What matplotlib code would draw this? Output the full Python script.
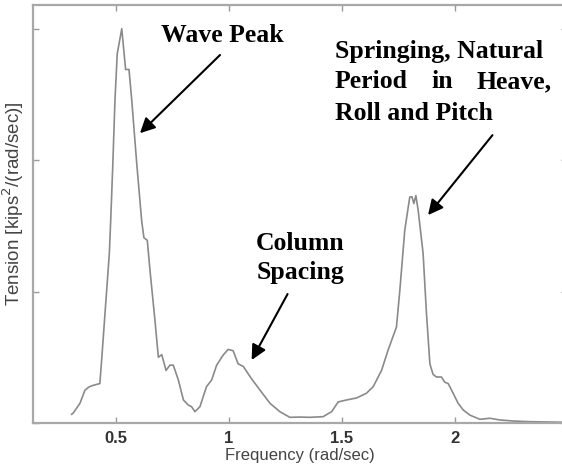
import matplotlib
matplotlib.use("Agg")
import matplotlib.pyplot as plt

# spectrum
freq = [0.305, 0.312, 0.342, 0.364, 0.379, 0.389, 0.408, 0.43, 0.438, 0.456,
        0.472, 0.478, 0.487, 0.497, 0.507, 0.527, 0.544, 0.559, 0.571, 0.593,
        0.615, 0.625, 0.64, 0.652, 0.674, 0.689, 0.704, 0.723, 0.74, 0.755,
        0.777, 0.80, 0.821, 0.836, 0.851, 0.873, 0.902, 0.925, 0.947, 0.976,
        0.998, 1.02, 1.042, 1.065, 1.10, 1.139, 1.183, 1.227, 1.271, 1.315,
        1.36, 1.418, 1.456, 1.485, 1.522, 1.566, 1.61, 1.64, 1.677, 1.706,
        1.743, 1.758, 1.78, 1.802, 1.812, 1.82, 1.829, 1.839, 1.861, 1.876,
        1.891, 1.905, 1.92, 1.942, 1.957, 1.972, 1.994, 2.016, 2.038, 2.068,
        2.112, 2.157, 2.2, 2.26, 2.33, 2.5]
tension = [0.066, 0.075, 0.15, 0.25, 0.27, 0.28, 0.29, 0.30, 0.48, 0.91,
           1.29, 1.54, 1.95, 2.46, 2.81, 3.00, 2.69, 2.69, 2.46, 1.98,
           1.54, 1.41, 1.39, 1.16, 0.78, 0.50, 0.52, 0.40, 0.44, 0.44,
           0.33, 0.175, 0.137, 0.124, 0.086, 0.124, 0.276, 0.327, 0.44, 0.517,
           0.56, 0.55, 0.45, 0.43, 0.34, 0.25, 0.15, 0.086, 0.043, 0.045,
           0.043, 0.048, 0.086, 0.16, 0.175, 0.19, 0.226, 0.276, 0.40, 0.555,
           0.73, 1.01, 1.47, 1.72, 1.72, 1.67, 1.73, 1.62, 1.29, 0.83,
           0.45, 0.37, 0.35, 0.35, 0.31, 0.30, 0.226, 0.15, 0.10, 0.06,
           0.028, 0.036, 0.023, 0.015, 0.01, 0.005]
xticks = [0.5, 1, 1.5, 2]
xtick_labels = ["0.5", "1", "1.5", "2"]
yticks = [0, 1, 2, 3]

fig = plt.figure(figsize=(5.62, 4.68), dpi=100)
ax = fig.add_axes([0.0587, 0.0962, 0.951, 0.893])

ax.plot(freq, tension, color="#8a8a8a", lw=1.2)

ax.set_xlim(0.134, 2.5)
ax.set_ylim(0, 3.18)
ax.set_xticks(xticks)
ax.set_xticklabels(xtick_labels, fontsize=12, fontweight="bold",
                   color="#333333", family="Liberation Sans")
ax.set_yticks(yticks)
ax.set_yticklabels([])
ax.tick_params(direction="in", length=4, width=1, color="#999999",
               top=True, right=True, pad=6)
for s in ax.spines.values():
    s.set_color("#a8a8a8")
    s.set_linewidth(1.6)

ax.set_xlabel("Frequency (rad/sec)", fontsize=12, color="#444444",
              family="Liberation Sans")
ax.xaxis.set_label_coords(0.5, -0.060)
ax.set_ylabel("Tension [kips$^2$/(rad/sec)]", fontsize=13.5, color="#444444",
              family="Liberation Sans")
ax.yaxis.set_label_coords(-0.014, 0.525)

# annotations
tfont = dict(family="Liberation Serif", fontweight="bold", fontsize=18.5,
             color="black")
arrow = dict(arrowstyle="-|>,head_length=0.9,head_width=0.45",
             color="black", lw=1.5, shrinkA=0, shrinkB=0)

ax.text(0.973, 2.897, "Wave Peak", ha="center", va="baseline", **tfont)
ax.annotate("", xy=(0.6075, 2.205), xytext=(0.962, 2.80), arrowprops=arrow)

ax.text(1.122, 1.316, "Column", ha="left", va="baseline", **tfont)
ax.text(1.122, 1.095, "Spacing", ha="left", va="baseline", **tfont)
ax.annotate("", xy=(1.102, 0.479), xytext=(1.261, 0.981), arrowprops=arrow)

ax.text(1.470, 2.776, "Springing, Natural", ha="left", va="baseline", **tfont)
ax.text(1.470, 2.548, "Period", ha="left", va="baseline", **tfont)
ax.text(1.944, 2.548, "in", ha="center", va="baseline", **tfont)
ax.text(2.429, 2.548, "Heave,", ha="right", va="baseline", **tfont)
ax.text(1.470, 2.304, "Roll and Pitch", ha="left", va="baseline", **tfont)
ax.annotate("", xy=(1.883, 1.582), xytext=(2.168, 2.190), arrowprops=arrow)

fig.savefig("out.png", dpi=100)
